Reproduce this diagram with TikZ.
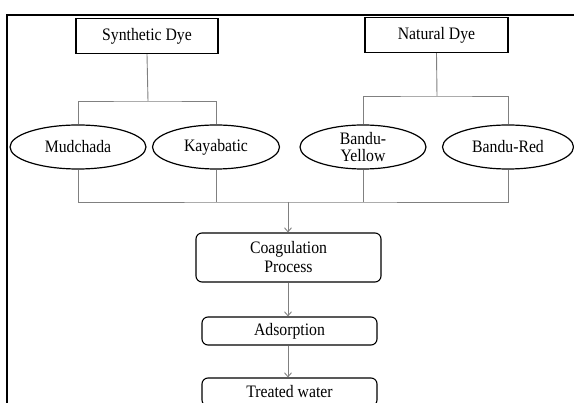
\documentclass[tikz,border=0pt]{standalone}
\usepackage{fontspec}
\setmainfont[FakeStretch=0.9]{Liberation Serif}
\usepackage{xcolor}
\definecolor{linkgray}{RGB}{128,128,128}
\usetikzlibrary{positioning,arrows.meta,shapes.geometric}

\begin{document}
\begin{tikzpicture}[x=1pt,y=-1pt,
  font=\fontsize{17.5}{19}\selectfont,
  dyebox/.style={draw,line width=1.4pt,minimum height=35pt,inner sep=0pt},
  dyeoval/.style={draw,ellipse,line width=1.2pt,minimum height=44pt,inner sep=0pt,align=center},
  stepbox/.style={draw,line width=1.1pt,rounded corners=6pt,inner sep=0pt,align=center},
  link/.style={draw=linkgray,line width=0.9pt},
  flow/.style={link,-{Straight Barb[length=4pt,width=7pt]}}]
  \useasboundingbox (0,0) rectangle (574,403);
  \clip (0,0) rectangle (574,403);
  % outer frame, cut off at the right and bottom
  \draw[line width=2pt] (7,15) rectangle (640,470);

  % dye groups
  \node[dyebox,minimum width=142pt] (syn) at (147,36) {Synthetic Dye};
  \node[dyebox,minimum width=143pt] (nat) at (436.5,35) {Natural Dye};

  \node[dyeoval,minimum width=136pt] (mud)  at (78,147)  {Mudchada};
  \node[dyeoval,minimum width=127pt] (kaya) at (216,147) {Kayabatic};
  \node[dyeoval,minimum width=126pt] (yel)  at (363,147) {Bandu-\\[-2pt]Yellow};
  \node[dyeoval,minimum width=131pt] (red)  at (508,147) {Bandu-Red};

  \coordinate (synbar) at (148,101);
  \coordinate (natbar) at (437,96);
  \coordinate (merge)  at (288,202);

  % process steps
  \node[stepbox,minimum width=185pt,minimum height=49pt] (coag) at (288.5,257.5) {Coagulation\\Process};
  \node[stepbox,minimum width=175pt,minimum height=28pt] (ads)  at (289.5,331) {Adsorption};
  \node[stepbox,minimum width=175pt,minimum height=28pt] (tw)   at (289.5,392) {Treated water};

  % tree links
  \draw[link] (syn.south) -- (synbar);
  \draw[link] (mud.north) |- (synbar) -| (kaya.north);
  \draw[link] (nat.south) -- (natbar);
  \draw[link] (yel.north) |- (natbar) -| (red.north);

  \draw[link] (mud.south) |- (merge) -| (red.south);
  \draw[link] (kaya.south) -- (kaya.south |- merge);
  \draw[link] (yel.south) -- (yel.south |- merge);

  \draw[flow] (merge) -- (merge |- coag.north);
  \draw[flow] (coag.south -| merge) -- (ads.north -| merge);
  \draw[flow] (ads.south -| merge) -- (tw.north -| merge);
\end{tikzpicture}
\end{document}
